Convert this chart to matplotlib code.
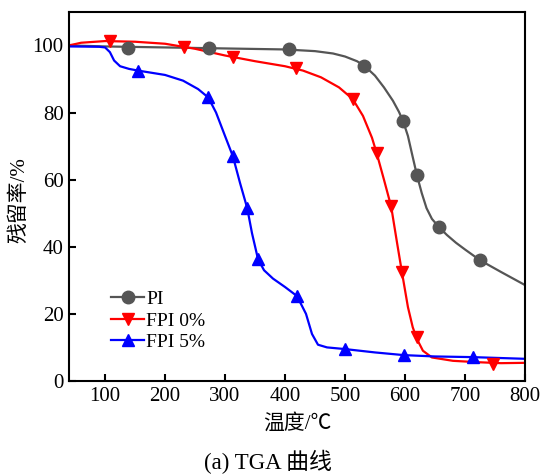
import numpy as np
import matplotlib
matplotlib.use("Agg")
import matplotlib.pyplot as plt
from matplotlib.lines import Line2D

plt.rcParams['font.family'] = ['Liberation Serif', 'Noto Sans CJK SC']

# PI curve and markers
pi_t = [40, 100, 200, 300, 400, 450, 480, 500, 520, 532, 550, 565, 580, 590, 597, 605, 612, 620, 628, 636, 645, 657, 670, 685, 700, 725, 760, 800]
pi_w = [100, 99.7, 99.4, 99.1, 98.8, 98.3, 97.6, 96.7, 95.3, 94, 91, 87.5, 83.5, 80.2, 77.4, 73, 67.5, 61.3, 56, 51.5, 48.3, 45.8, 43.5, 41.2, 39.2, 36, 32.5, 28.6]
pi_mt = [138, 273, 407, 532, 597, 620, 657, 725]
pi_mw = [99.3, 99.1, 98.9, 94, 77.4, 61.3, 45.8, 36]

# FPI 0% curve and markers
f0_t = [40, 60, 100, 150, 200, 250, 300, 350, 400, 430, 460, 490, 513, 530, 545, 553, 565, 577, 587, 595, 605, 613, 620, 630, 645, 680, 720, 760, 800]
f0_w = [100, 100.8, 101.3, 101.1, 100.5, 99, 97, 95.3, 93.8, 92.5, 90.5, 87.5, 84, 79, 72.5, 67.8, 60, 52, 41, 32.4, 22, 16, 12.5, 9, 7, 6, 5.6, 5.3, 5.4]
f0_mt = [108, 232, 313, 418, 513, 553, 577, 595, 620, 747]
f0_mw = [101.2, 99.6, 96.6, 93.3, 84, 67.8, 52, 32.4, 13, 5.2]

# FPI 5% curve and markers
f5_t = [40, 90, 100, 108, 115, 125, 140, 155, 200, 230, 255, 272, 285, 300, 313, 325, 337, 345, 355, 365, 380, 400, 420, 435, 445, 455, 470, 500, 550, 598, 650, 713, 800]
f5_w = [99.7, 99.6, 99.4, 98, 95.5, 93.8, 93, 92.5, 91.2, 89.5, 87, 84.5, 80, 73, 67, 59, 51.5, 44, 36.3, 33, 30.5, 28, 25.3, 20, 14, 10.8, 10, 9.5, 8.5, 7.7, 7.3, 7.1, 6.6]
f5_mt = [155, 272, 313, 337, 355, 420, 500, 598, 713]
f5_mw = [92.5, 84.5, 67, 51.5, 36.3, 25.3, 9.5, 7.7, 7.1]

labels = ['PI', 'FPI 0%', 'FPI 5%']
colors = ['#555555', '#ff0000', '#0000ff']
markers = ['o', 'v', '^']

fig = plt.figure(figsize=(5.4, 4.75), dpi=100)
ax = fig.add_axes([0.128, 0.198, 0.844, 0.777])

series = [(pi_t, pi_w, pi_mt, pi_mw), (f0_t, f0_w, f0_mt, f0_mw), (f5_t, f5_w, f5_mt, f5_mw)]
for (t, w, mt, mw), c, m in zip(series, colors, markers):
    ax.plot(t, w, color=c, lw=1.6, zorder=2)
    ax.plot(mt, mw, ls='none', marker=m, color=c, ms=9, zorder=3)

ax.set_xlim(40, 800)
ax.set_ylim(0, 110)
ax.set_xticks([100, 200, 300, 400, 500, 600, 700, 800])
ax.set_yticks([0, 20, 40, 60, 80, 100])
ax.tick_params(direction='in', length=5, width=1.5, labelsize=15, top=False, right=False, pad=4)
for s in ax.spines.values():
    s.set_linewidth(1.5)

ax.set_xlabel('温度/℃', fontsize=15)
ax.set_ylabel('残留率/%', fontsize=15)
ax.xaxis.set_label_coords(0.5, -0.09)
ax.yaxis.set_label_coords(-0.088, 0.49)

handles = [Line2D([], [], color=c, marker=m, lw=1.6, ms=9) for c, m in zip(colors, markers)]
ax.legend(handles, labels, loc='upper left', bbox_to_anchor=(0.092, 0.245), frameon=False,
          fontsize=14, handlelength=1.7, handletextpad=0.1, labelspacing=0.2,
          borderpad=0, borderaxespad=0)

fig.text(0.497, 0.028, '(a) TGA 曲线', fontsize=16.5, ha='center', va='center')

fig.savefig('out.png', dpi=100)
